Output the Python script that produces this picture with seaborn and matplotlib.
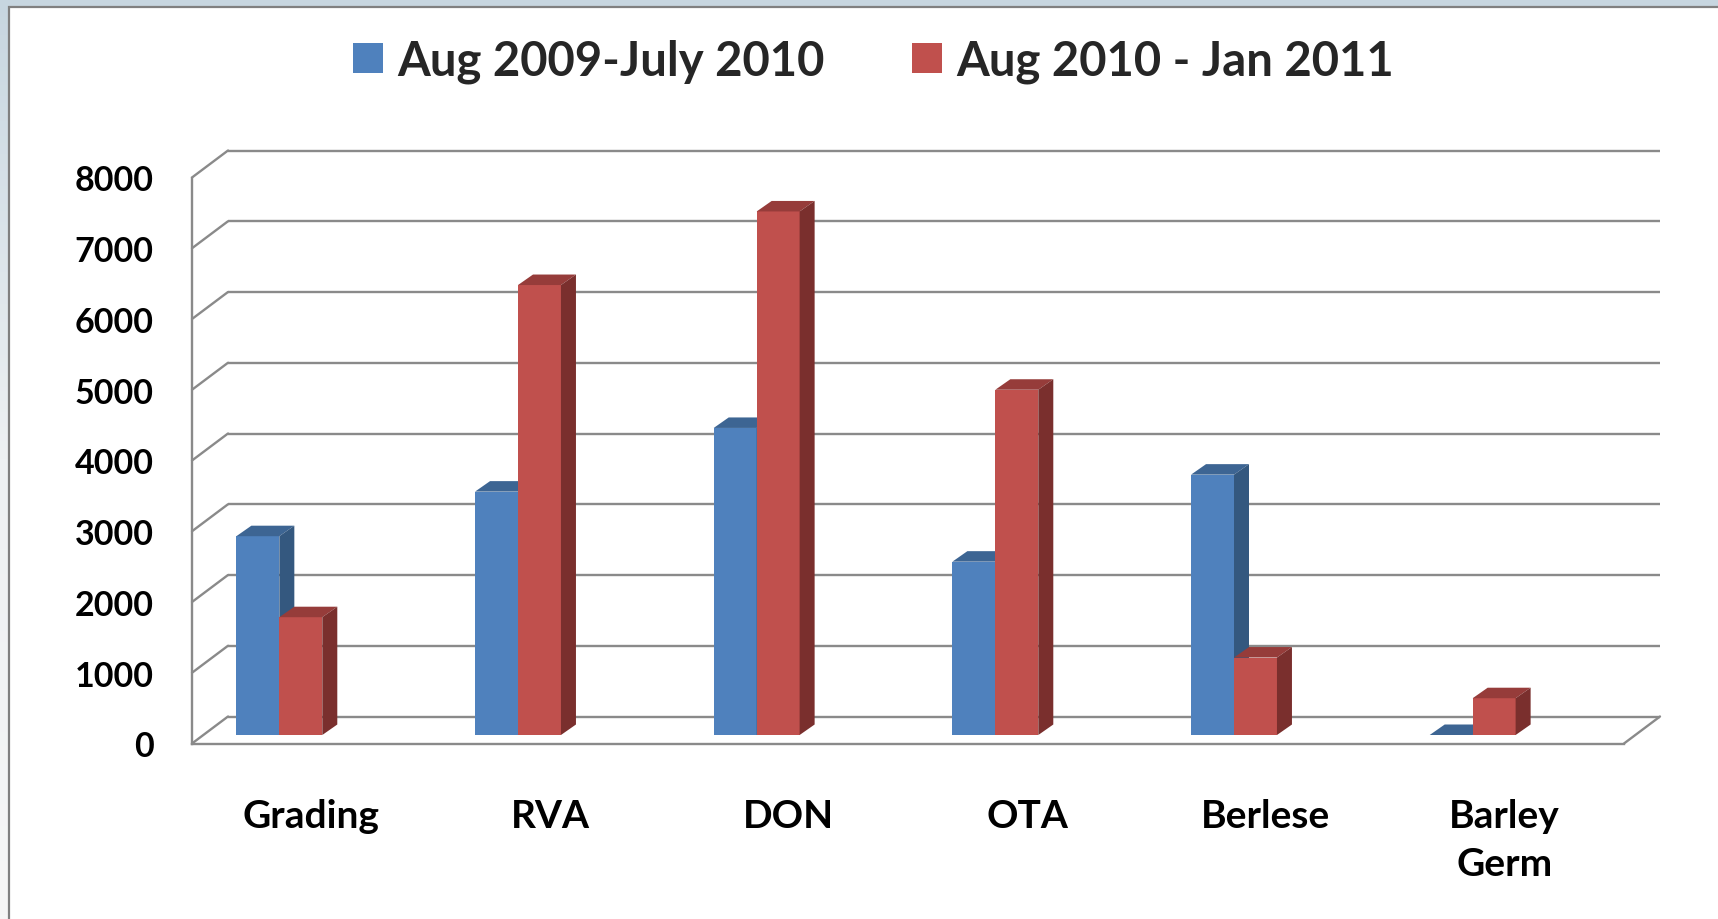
import numpy as np
import pandas as pd
import matplotlib
matplotlib.use("Agg")
import matplotlib.pyplot as plt
from matplotlib.patches import Polygon, Rectangle
from matplotlib.ticker import FixedLocator
import seaborn as sns

# ---------------- data ----------------
categories = ["Grading", "RVA", "DON", "OTA", "Berlese", "Barley\nGerm"]
series_names = ["Aug 2009-July 2010", "Aug 2010 - Jan 2011"]
values_2009_10 = [2810, 3440, 4340, 2450, 3680, 0]
values_2010_11 = [1665, 6360, 7400, 4880, 1095, 520]
y_ticks = [0, 1000, 2000, 3000, 4000, 5000, 6000, 7000, 8000]

front_colors = ["#4F81BD", "#C0504D"]
top_colors = ["#3D6593", "#963C3A"]
side_colors = ["#34587F", "#7A2F2D"]
grid_color = "#8A8A8A"

df = pd.DataFrame({
    "category": categories * 2,
    "value": values_2009_10 + values_2010_11,
    "period": [series_names[0]] * len(categories) + [series_names[1]] * len(categories),
})

sns.set_style("white")
plt.rcParams["font.family"] = ["Lato", "DejaVu Sans"]
plt.rcParams["font.weight"] = "bold"

W, H = 1718, 920
fig = plt.figure(figsize=(W / 100, H / 100), dpi=100)

# background with soft gradient and white frame
bg = fig.add_axes([0, 0, 1, 1])
bg.set_axis_off()
grad = np.linspace(0, 1, 256).reshape(-1, 1)
cmap = matplotlib.colors.LinearSegmentedColormap.from_list("bgc", ["#C7D6E0", "#EEF1F3", "#F6F6F6"])
bg.imshow(grad, extent=[0, 1, 0, 1], aspect="auto", cmap=cmap, origin="upper",
          transform=bg.transAxes)
bg.add_patch(Rectangle((9 / W, -0.05), 1.2, (H - 8) / H + 0.05, transform=bg.transAxes,
                       facecolor="white", edgecolor="#808080", linewidth=1.6, clip_on=False))
bg.set_xlim(0, 1)
bg.set_ylim(0, 1)

# front plane axes
x0_px, x1_px = 192, 1624
y0_px, y8_px = 744.5, 178.5
ax = fig.add_axes([x0_px / W, (H - y0_px) / H, (x1_px - x0_px) / W, (y0_px - y8_px) / H])
ax.set_facecolor("none")

sns.barplot(data=df, x="category", y="value", hue="period", order=categories,
            hue_order=series_names, palette=front_colors, width=0.36, saturation=1,
            errorbar=None, linewidth=0, ax=ax)

ax.set_xlim(-0.5, len(categories) - 0.5)
ax.set_ylim(0, 8000)

px_per_cat = (x1_px - x0_px) / len(categories)
px_per_unit = (y0_px - y8_px) / 8000.0

def to_data(dx_px, dy_px):
    return dx_px / px_per_cat, dy_px / px_per_unit

# depth vectors (in pixels, up = positive)
wall_dx, wall_dy = to_data(36, 27)
bar_off_x, bar_off_y = to_data(-32, 8.5)
bar_dx, bar_dy = to_data(15, 10.5)

# back wall gridlines and connecting diagonals
xmin, xmax = ax.get_xlim()
for v in y_ticks:
    ax.plot([xmin + wall_dx, xmax + wall_dx], [v + wall_dy, v + wall_dy],
            color=grid_color, lw=1.7, clip_on=False, zorder=1, solid_capstyle="butt")
    ax.plot([xmin, xmin + wall_dx], [v, v + wall_dy], color=grid_color, lw=1.7,
            clip_on=False, zorder=1)
# floor right edge
ax.plot([xmax, xmax + wall_dx], [0, wall_dy], color=grid_color, lw=1.7, clip_on=False, zorder=1)

# 3D faces for bars
for j, cont in enumerate(ax.containers):
    for i, p in enumerate(cont.patches):
        x = p.get_x() + bar_off_x
        w = p.get_width()
        h = p.get_height()
        base = bar_off_y
        z = 3 + i * 0.1 + j * 0.03
        p.set_x(x)
        p.set_y(base)
        p.set_zorder(z)
        p.set_clip_on(False)
        top = Polygon([(x, base + h), (x + w, base + h), (x + w + bar_dx, base + h + bar_dy),
                       (x + bar_dx, base + h + bar_dy)], closed=True,
                      facecolor=top_colors[j], edgecolor="none", zorder=z + 0.01, clip_on=False)
        side = Polygon([(x + w, base), (x + w, base + h), (x + w + bar_dx, base + h + bar_dy),
                        (x + w + bar_dx, base + bar_dy)], closed=True,
                       facecolor=side_colors[j], edgecolor="none", zorder=z + 0.02, clip_on=False)
        ax.add_patch(top)
        ax.add_patch(side)

# axes styling
for s in ["top", "right"]:
    ax.spines[s].set_visible(False)
for s in ["left", "bottom"]:
    ax.spines[s].set_color(grid_color)
    ax.spines[s].set_linewidth(1.7)
    ax.spines[s].set_zorder(2)

ax.set_yticks(y_ticks)
ax.set_yticklabels([str(t) for t in y_ticks], fontsize=24.5, fontweight="bold", color="black")
ax.tick_params(axis="y", direction="out", length=9.5, width=1.7, color=grid_color, pad=18)

ax.set_xticks(range(len(categories)))
ax.set_xticklabels(categories, fontsize=28, fontweight="bold", color="black", linespacing=1.45)
ax.tick_params(axis="x", which="major", length=0, pad=39)
ax.xaxis.set_minor_locator(FixedLocator(np.arange(-0.5, len(categories), 1.0)))
ax.tick_params(axis="x", which="minor", direction="out", length=10, width=1.7, color=grid_color)

ax.set_xlabel("")
ax.set_ylabel("")

handles, labels = ax.get_legend_handles_labels()
if ax.get_legend() is not None:
    ax.get_legend().remove()
fig.legend(handles, labels, loc="center", bbox_to_anchor=(0.5084, 0.9326),
           bbox_transform=fig.transFigure, ncol=2, frameon=False,
           prop={"size": 34, "weight": "bold"}, handlelength=0.64, handleheight=0.6,
           handletextpad=0.3, columnspacing=1.86, borderpad=0)

fig.savefig("out.png", dpi=100)
